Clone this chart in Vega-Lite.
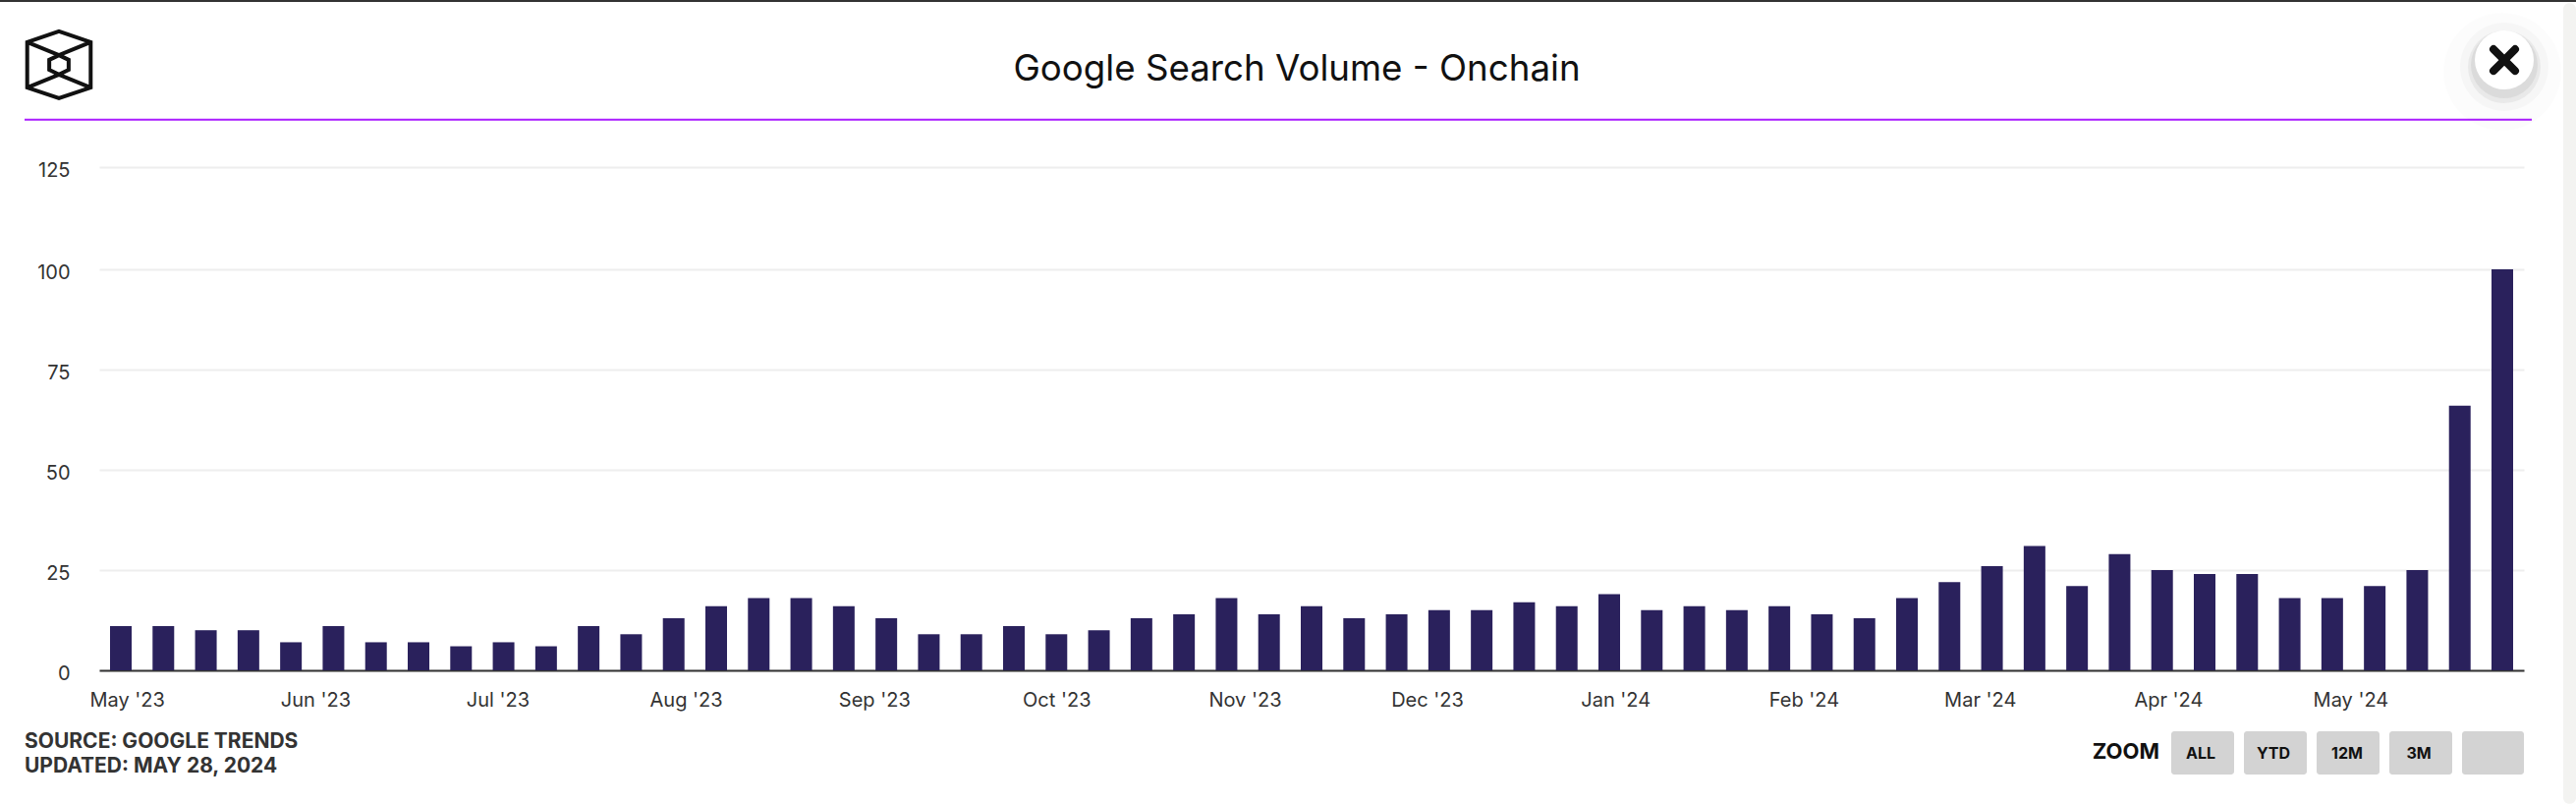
{"$schema":"https://vega.github.io/schema/vega-lite/v6.json","width":2468,"height":512,"autosize":{"type":"none"},"padding":{"left":101,"top":170,"right":53,"bottom":136},"background":"#ffffff","title":{"text":"Google Search Volume - Onchain","font":"Inter","fontSize":36.7,"fontWeight":400,"color":"#111111","anchor":"middle","frame":"group","dx":-15,"offset":-90},"config":{"view":{"stroke":null},"axis":{"labelFont":"Inter","labelFontSize":20,"labelColor":"#333333","title":null,"tickSize":0}},"data":{"values":[{"date":"2023-04-30","value":11},{"date":"2023-05-07","value":11},{"date":"2023-05-14","value":10},{"date":"2023-05-21","value":10},{"date":"2023-05-28","value":7},{"date":"2023-06-04","value":11},{"date":"2023-06-11","value":7},{"date":"2023-06-18","value":7},{"date":"2023-06-25","value":6},{"date":"2023-07-02","value":7},{"date":"2023-07-09","value":6},{"date":"2023-07-16","value":11},{"date":"2023-07-23","value":9},{"date":"2023-07-30","value":13},{"date":"2023-08-06","value":16},{"date":"2023-08-13","value":18},{"date":"2023-08-20","value":18},{"date":"2023-08-27","value":16},{"date":"2023-09-03","value":13},{"date":"2023-09-10","value":9},{"date":"2023-09-17","value":9},{"date":"2023-09-24","value":11},{"date":"2023-10-01","value":9},{"date":"2023-10-08","value":10},{"date":"2023-10-15","value":13},{"date":"2023-10-22","value":14},{"date":"2023-10-29","value":18},{"date":"2023-11-05","value":14},{"date":"2023-11-12","value":16},{"date":"2023-11-19","value":13},{"date":"2023-11-26","value":14},{"date":"2023-12-03","value":15},{"date":"2023-12-10","value":15},{"date":"2023-12-17","value":17},{"date":"2023-12-24","value":16},{"date":"2023-12-31","value":19},{"date":"2024-01-07","value":15},{"date":"2024-01-14","value":16},{"date":"2024-01-21","value":15},{"date":"2024-01-28","value":16},{"date":"2024-02-04","value":14},{"date":"2024-02-11","value":13},{"date":"2024-02-18","value":18},{"date":"2024-02-25","value":22},{"date":"2024-03-03","value":26},{"date":"2024-03-10","value":31},{"date":"2024-03-17","value":21},{"date":"2024-03-24","value":29},{"date":"2024-03-31","value":25},{"date":"2024-04-07","value":24},{"date":"2024-04-14","value":24},{"date":"2024-04-21","value":18},{"date":"2024-04-28","value":18},{"date":"2024-05-05","value":21},{"date":"2024-05-12","value":25},{"date":"2024-05-19","value":66},{"date":"2024-05-26","value":100}]},"layer":[{"mark":{"type":"bar","size":22,"color":"#2a215c"},"encoding":{"x":{"field":"date","type":"temporal","scale":{"type":"utc","domain":[1682505475200,1716988924800],"padding":0},"axis":{"format":"%b '%y","tickCount":{"interval":"month","step":1},"grid":false,"domainColor":"#333333","domainWidth":2,"labelPadding":20,"labelFlush":false,"labelOverlap":false}},"y":{"field":"value","type":"quantitative","scale":{"domain":[0,125.5],"nice":false},"axis":{"values":[0,25,50,75,100,125.49],"format":"d","grid":true,"gridColor":"#eeeeee","gridWidth":2,"domain":false,"labelPadding":30,"labelOffset":3}}}},{"data":{"values":[{}]},"layer":[{"mark":{"type":"rule","color":"#333333","strokeWidth":2},"encoding":{"x":{"datum":1681094280576,"type":"temporal"},"x2":{"datum":1717729451904},"y":{"datum":166.9}}},{"mark":{"type":"rect","color":"#f3f3f1","cornerRadius":6},"encoding":{"x":{"datum":1717547812992,"type":"temporal"},"x2":{"datum":1717729451904},"y":{"datum":166.4},"y2":{"datum":-33.3}}},{"mark":{"type":"rule","color":"#aa1cff","strokeWidth":2},"encoding":{"x":{"datum":1681443586176,"type":"temporal"},"x2":{"datum":1717100701824},"y":{"datum":137.3}}},{"mark":{"type":"point","shape":"M0,-1L.95,-.68L.95,.68L0,1L-.95,.68L-.95,-.68ZM0,-.29L.29,-.15L.29,.15L0,.29L-.29,.15L-.29,-.15ZM-.95,-.68L0,-.29L.95,-.68M-.95,.68L0,.29L.95,.68","size":4624,"filled":false,"stroke":"#111111","strokeWidth":4,"opacity":1},"encoding":{"x":{"datum":1681932614016,"type":"temporal"},"y":{"datum":151.0}}},{"mark":{"type":"point","shape":"circle","size":14400,"filled":true,"color":"#000000","opacity":0.012},"encoding":{"x":{"datum":1716681535104,"type":"temporal"},"y":{"datum":149.3}}},{"mark":{"type":"point","shape":"circle","size":8100,"filled":true,"color":"#000000","opacity":0.025},"encoding":{"x":{"datum":1716709479552,"type":"temporal"},"y":{"datum":150.5}}},{"mark":{"type":"point","shape":"circle","size":5476,"filled":true,"color":"#000000","opacity":0.05},"encoding":{"x":{"datum":1716709479552,"type":"temporal"},"y":{"datum":150.5}}},{"mark":{"type":"point","shape":"circle","size":4624,"filled":true,"color":"#000000","opacity":0.06},"encoding":{"x":{"datum":1716709479552,"type":"temporal"},"y":{"datum":151}}},{"mark":{"type":"point","shape":"circle","size":3600,"filled":true,"color":"#ffffff","opacity":1},"encoding":{"x":{"datum":1716709479552,"type":"temporal"},"y":{"datum":152.2}}},{"mark":{"type":"point","shape":"M-1,-1L1,1M1,-1L-1,1","size":484,"filled":false,"stroke":"#111111","strokeWidth":8,"strokeCap":"round","opacity":1},"encoding":{"x":{"datum":1716709479552,"type":"temporal"},"y":{"datum":152.2}}},{"mark":{"type":"text","text":"SOURCE: GOOGLE TRENDS","font":"Inter","fontSize":21,"fontWeight":700,"color":"#333333","align":"left","baseline":"middle"},"encoding":{"x":{"datum":1681443586176,"type":"temporal"},"y":{"datum":-17.9}}},{"mark":{"type":"text","text":"UPDATED: MAY 28, 2024","font":"Inter","fontSize":21,"fontWeight":700,"color":"#333333","align":"left","baseline":"middle"},"encoding":{"x":{"datum":1681443586176,"type":"temporal"},"y":{"datum":-24.0}}},{"mark":{"type":"text","text":"ZOOM","font":"Inter","fontSize":22,"fontWeight":700,"color":"#111111","align":"right","baseline":"middle"},"encoding":{"x":{"datum":1711805228928,"type":"temporal"},"y":{"datum":-20.3}}},{"mark":{"type":"rect","color":"#d3d3d3","cornerRadius":3},"encoding":{"x":{"datum":1711972895616,"type":"temporal"},"x2":{"datum":1712867117952},"y":{"datum":-15.2},"y2":{"datum":-26}}},{"mark":{"type":"rect","color":"#d3d3d3","cornerRadius":3},"encoding":{"x":{"datum":1713006840192,"type":"temporal"},"x2":{"datum":1713901062528},"y":{"datum":-15.2},"y2":{"datum":-26}}},{"mark":{"type":"rect","color":"#d3d3d3","cornerRadius":3},"encoding":{"x":{"datum":1714040784768,"type":"temporal"},"x2":{"datum":1714935007104},"y":{"datum":-15.2},"y2":{"datum":-26}}},{"mark":{"type":"rect","color":"#d3d3d3","cornerRadius":3},"encoding":{"x":{"datum":1715074729344,"type":"temporal"},"x2":{"datum":1715968951680},"y":{"datum":-15.2},"y2":{"datum":-26}}},{"mark":{"type":"rect","color":"#d3d3d3","cornerRadius":3},"encoding":{"x":{"datum":1716108673920,"type":"temporal"},"x2":{"datum":1716988924800},"y":{"datum":-15.2},"y2":{"datum":-26}}},{"mark":{"type":"text","text":"ALL","font":"Inter","fontSize":16,"fontWeight":700,"color":"#111111","baseline":"middle"},"encoding":{"x":{"datum":1712392062336,"type":"temporal"},"y":{"datum":-20.8}}},{"mark":{"type":"text","text":"YTD","font":"Inter","fontSize":16,"fontWeight":700,"color":"#111111","baseline":"middle"},"encoding":{"x":{"datum":1713426006912,"type":"temporal"},"y":{"datum":-20.8}}},{"mark":{"type":"text","text":"12M","font":"Inter","fontSize":16,"fontWeight":700,"color":"#111111","baseline":"middle"},"encoding":{"x":{"datum":1714473923712,"type":"temporal"},"y":{"datum":-20.8}}},{"mark":{"type":"text","text":"3M","font":"Inter","fontSize":16,"fontWeight":700,"color":"#111111","baseline":"middle"},"encoding":{"x":{"datum":1715493896064,"type":"temporal"},"y":{"datum":-20.8}}}]}]}
